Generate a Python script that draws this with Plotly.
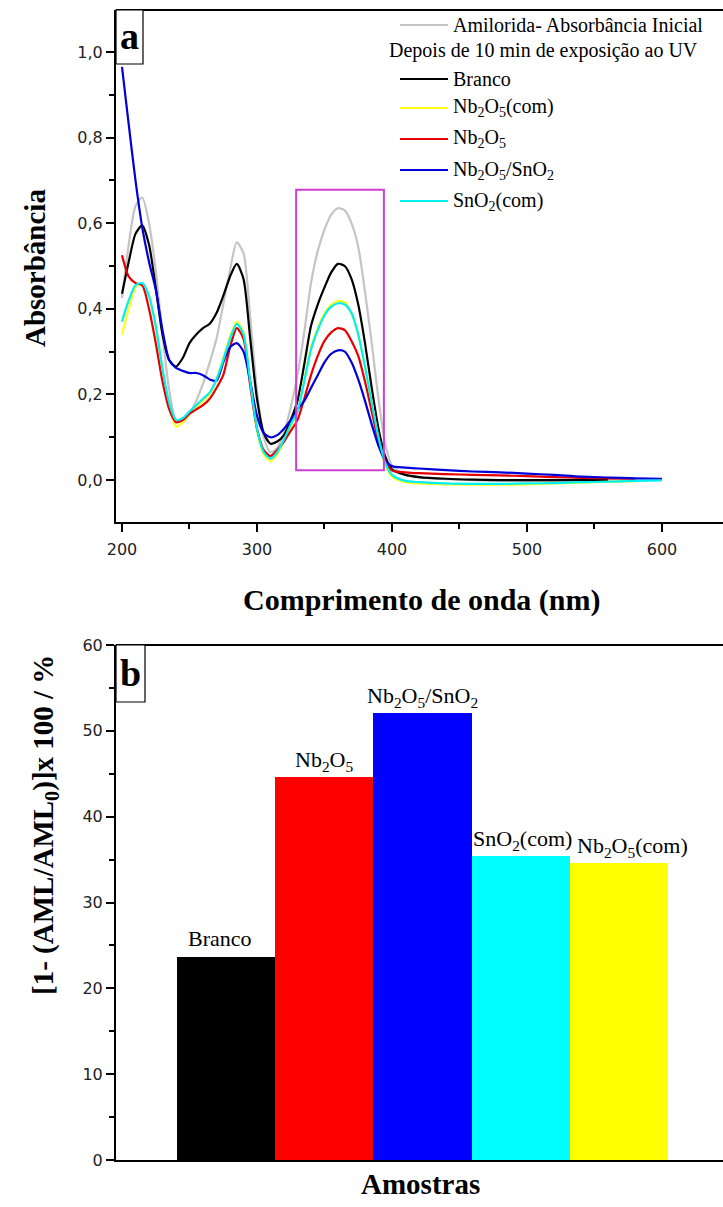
import plotly.graph_objects as go

W, H = 723, 1207

# ---------------- Panel (a): UV-Vis spectra ----------------
wavelength = [200, 205, 210, 215, 220, 225, 230, 235, 240, 245, 250, 255, 260, 265,
              270, 275, 280, 285, 290, 295, 300, 305, 310, 315, 320, 325, 330, 335,
              340, 345, 350, 355, 360, 365, 370, 375, 380, 385, 390, 395, 400, 410,
              420, 440, 460, 480, 500, 520, 540, 560, 580, 600]

absorb_inicial = [0.425, 0.55, 0.64, 0.66, 0.60, 0.49, 0.34, 0.21, 0.14, 0.135, 0.155, 0.185,
                  0.225, 0.275, 0.33, 0.41, 0.49, 0.555, 0.53, 0.38, 0.21, 0.10, 0.065, 0.075,
                  0.11, 0.17, 0.245, 0.345, 0.46, 0.535, 0.585, 0.62, 0.635, 0.63, 0.60, 0.545,
                  0.44, 0.32, 0.19, 0.085, 0.035, 0.012, 0.006, 0.002, 0.0, -0.002, -0.002,
                  -0.002, -0.001, 0.0, 0.0, 0.0]

branco = [0.435, 0.51, 0.575, 0.595, 0.55, 0.45, 0.34, 0.28, 0.265, 0.285, 0.32, 0.34,
          0.355, 0.365, 0.39, 0.43, 0.475, 0.505, 0.47, 0.33, 0.19, 0.11, 0.085, 0.09,
          0.105, 0.14, 0.185, 0.27, 0.36, 0.41, 0.45, 0.485, 0.505, 0.50, 0.47, 0.41,
          0.32, 0.215, 0.12, 0.055, 0.025, 0.012, 0.007, 0.003, 0.001, 0.0, 0.0, 0.0,
          0.0, 0.0, None, None]

nb2o5_com = [0.34, 0.40, 0.45, 0.46, 0.43, 0.36, 0.255, 0.17, 0.125, 0.135, 0.155, 0.17,
             0.185, 0.20, 0.235, 0.285, 0.335, 0.37, 0.345, 0.23, 0.115, 0.06, 0.045, 0.06,
             0.09, 0.125, 0.16, 0.235, 0.31, 0.355, 0.39, 0.41, 0.418, 0.415, 0.39, 0.34,
             0.265, 0.18, 0.095, 0.035, 0.008, -0.005, -0.008, -0.01, -0.011, -0.011,
             -0.01, -0.008, -0.006, -0.004, -0.003, None]

nb2o5 = [0.525, 0.475, 0.46, 0.455, 0.40, 0.32, 0.23, 0.165, 0.135, 0.14, 0.155, 0.165,
         0.175, 0.19, 0.215, 0.245, 0.31, 0.355, 0.33, 0.22, 0.12, 0.07, 0.056, 0.07,
         0.09, 0.115, 0.14, 0.19, 0.245, 0.29, 0.325, 0.345, 0.355, 0.35, 0.325, 0.29,
         0.23, 0.16, 0.09, 0.045, 0.022, 0.018, 0.016, 0.014, 0.012, 0.011, 0.009,
         0.007, 0.005, 0.004, 0.003, None]

nb2o5_sno2 = [0.965, 0.83, 0.70, 0.59, 0.51, 0.445, 0.35, 0.28, 0.262, 0.255, 0.25, 0.25,
              0.245, 0.235, 0.232, 0.275, 0.31, 0.32, 0.30, 0.23, 0.15, 0.11, 0.10, 0.105,
              0.12, 0.14, 0.165, 0.185, 0.215, 0.245, 0.275, 0.295, 0.303, 0.30, 0.275,
              0.235, 0.185, 0.13, 0.08, 0.045, 0.032, 0.029, 0.027, 0.023, 0.02, 0.018,
              0.015, 0.012, 0.008, 0.006, 0.004, 0.003]

sno2_com = [0.37, 0.42, 0.455, 0.46, 0.43, 0.36, 0.26, 0.18, 0.14, 0.145, 0.16, 0.175,
            0.19, 0.205, 0.235, 0.28, 0.33, 0.365, 0.34, 0.23, 0.12, 0.065, 0.05, 0.065,
            0.095, 0.13, 0.16, 0.23, 0.305, 0.35, 0.385, 0.405, 0.413, 0.41, 0.39, 0.34,
            0.265, 0.18, 0.10, 0.04, 0.012, -0.002, -0.005, -0.008, -0.009, -0.009,
            -0.008, -0.007, -0.005, -0.004, -0.002, -0.001]

spectra_names = ["Amilorida- Absorbância Inicial", "Branco", "Nb<sub>2</sub>O<sub>5</sub>(com)",
                 "Nb<sub>2</sub>O<sub>5</sub>", "Nb<sub>2</sub>O<sub>5</sub>/SnO<sub>2</sub>",
                 "SnO<sub>2</sub>(com)"]
spectra_values = [absorb_inicial, branco, nb2o5_com, nb2o5, nb2o5_sno2, sno2_com]
spectra_colors = ["#c4c4c4", "#000000", "#ffff1a", "#e60000", "#0000d8", "#00f0f0"]

x_ticks_a = [200, 300, 400, 500, 600]
y_ticks_a = [0.0, 0.2, 0.4, 0.6, 0.8, 1.0]

# highlighted region around the 362 nm band
zoom_box = dict(x0=329, x1=394, y0=0.023, y1=0.678)

# ---------------- Panel (b): degradation bars ----------------
amostras = ["Branco", "Nb2O5", "Nb2O5/SnO2", "SnO2(com)", "Nb2O5(com)"]
amostra_labels = ["Branco", "Nb<sub>2</sub>O<sub>5</sub>", "Nb<sub>2</sub>O<sub>5</sub>/SnO<sub>2</sub>",
                  "SnO<sub>2</sub>(com)", "Nb<sub>2</sub>O<sub>5</sub>(com)"]
degradacao = [23.6, 44.6, 52.1, 35.4, 34.6]
bar_colors = ["#000000", "#ff0000", "#0000ff", "#00ffff", "#ffff00"]
label_xshift = [-6, 0, 0, 2, 14]
label_yshift = [4, 0, 0, 0, 0]
y_ticks_b = [0, 10, 20, 30, 40, 50, 60]


def fx(px):
    return px / W


def fy(py):
    return 1 - py / H


SERIF = "Liberation Serif"
SANS = "DejaVu Sans"
TICK_FONT = dict(family=SANS, size=16, color="#222222")

fig = go.Figure()

for name, vals, col in zip(spectra_names, spectra_values, spectra_colors):
    fig.add_trace(go.Scatter(
        x=wavelength, y=vals, mode="lines", name=name,
        line=dict(color=col, width=2.2, shape="spline", smoothing=0.7),
        showlegend=False, xaxis="x", yaxis="y", connectgaps=False))

fig.add_trace(go.Bar(
    x=amostras, y=degradacao, marker=dict(color=bar_colors, line=dict(width=0)),
    showlegend=False, xaxis="x2", yaxis="y2", width=1.0))

axis_common = dict(showline=True, linecolor="black", linewidth=2, ticks="outside",
                   tickcolor="black", tickwidth=2, ticklen=8, showgrid=False,
                   zeroline=False, tickfont=TICK_FONT, automargin=False)

fig.update_layout(
    width=W, height=H, margin=dict(l=0, r=0, t=0, b=0, pad=0, autoexpand=False),
    paper_bgcolor="white", plot_bgcolor="white",
    separators=",.",
    bargap=0,
    xaxis=dict(domain=[fx(116), 1], range=[195.56, 645.2], anchor="y",
               tickvals=x_ticks_a, ticklabelstandoff=4,
               minor=dict(dtick=50, tick0=200, ticks="outside", ticklen=5, tickwidth=1.5,
                          tickcolor="black"),
               **axis_common),
    yaxis=dict(domain=[fy(522), fy(10)], range=[-0.098, 1.098], anchor="x",
               tickvals=y_ticks_a, tickformat=".1f",
               minor=dict(dtick=0.1, tick0=0, ticks="outside", ticklen=5, tickwidth=1.5,
                          tickcolor="black"),
               **axis_common),
    xaxis2=dict(domain=[fx(116), 1], range=[-1.12, 5.06], anchor="y2",
                showticklabels=False, showline=True, linecolor="black", linewidth=2,
                ticks="", showgrid=False, zeroline=False, automargin=False),
    yaxis2=dict(domain=[fy(1160), fy(645)], range=[0, 60], anchor="x2",
                tickvals=y_ticks_b,
                minor=dict(dtick=5, tick0=0, ticks="outside", ticklen=5, tickwidth=1.5,
                           tickcolor="black"),
                **axis_common),
)

shapes = []
annotations = []

# top frame lines of both panels
for top in (10, 645):
    shapes.append(dict(type="line", xref="paper", yref="paper",
                       x0=fx(116), x1=1, y0=fy(top), y1=fy(top),
                       line=dict(color="black", width=2)))

# panel letter boxes
for letter, (x0, x1, y0, y1) in (("a", (116, 143, 10, 64)), ("b", (116, 145, 645, 702))):
    shapes.append(dict(type="rect", xref="paper", yref="paper",
                       x0=fx(x0), x1=fx(x1), y0=fy(y1), y1=fy(y0),
                       line=dict(color="black", width=1.2), fillcolor="white"))
    annotations.append(dict(text=f"<b>{letter}</b>", xref="paper", yref="paper",
                            x=fx((x0 + x1) / 2), y=fy((y0 + y1) / 2 - 1),
                            showarrow=False, xanchor="center", yanchor="middle",
                            font=dict(family=SERIF, size=38, color="black")))

# highlighted band region
shapes.append(dict(type="rect", xref="x", yref="y", **zoom_box,
                   line=dict(color="#cf3fd2", width=2)))

# legend of panel (a)
legend_rows = [25, 79, 108, 139, 170, 201]
for row, name, col in zip(legend_rows, spectra_names, spectra_colors):
    shapes.append(dict(type="line", xref="paper", yref="paper",
                       x0=fx(400), x1=fx(448), y0=fy(row), y1=fy(row),
                       line=dict(color=col, width=2.2)))
    annotations.append(dict(text=name, xref="paper", yref="paper", x=fx(451), y=fy(row),
                            showarrow=False, xanchor="left", yanchor="middle",
                            font=dict(family=SERIF, size=20, color="black")))
annotations.append(dict(text="Depois de 10 min de exposição ao UV", xref="paper",
                        yref="paper", x=fx(387), y=fy(51), showarrow=False,
                        xanchor="left", yanchor="middle",
                        font=dict(family=SERIF, size=20, color="black")))

# axis titles
annotations.append(dict(text="<b>Absorbância</b>", xref="paper", yref="paper",
                        x=fx(35), y=fy(268), textangle=-90, showarrow=False,
                        xanchor="center", yanchor="middle",
                        font=dict(family=SERIF, size=29, color="black")))
annotations.append(dict(text="<b>Comprimento de onda (nm)</b>", xref="paper", yref="paper",
                        x=fx(422), y=fy(600), showarrow=False,
                        xanchor="center", yanchor="middle",
                        font=dict(family=SERIF, size=30, color="black")))
annotations.append(dict(text="<b>[1- (AML/AML<sub>0</sub>)]x 100 / %</b>", xref="paper",
                        yref="paper", x=fx(45), y=fy(825), textangle=-90, showarrow=False,
                        xanchor="center", yanchor="middle",
                        font=dict(family=SERIF, size=29, color="black")))
annotations.append(dict(text="<b>Amostras</b>", xref="paper", yref="paper",
                        x=fx(420), y=fy(1184), showarrow=False,
                        xanchor="center", yanchor="middle",
                        font=dict(family=SERIF, size=29, color="black")))

# value labels above bars
for cat, lab, val, dx, dy in zip(amostras, amostra_labels, degradacao,
                                 label_xshift, label_yshift):
    annotations.append(dict(text=lab, xref="x2", yref="y2", x=cat, y=val,
                            showarrow=False, xanchor="center", yanchor="bottom",
                            yshift=dy, xshift=dx,
                            font=dict(family=SERIF, size=22, color="black")))

fig.update_layout(shapes=shapes, annotations=annotations)

fig.write_html("out.html", post_script="document.body.style.margin='0px';")
